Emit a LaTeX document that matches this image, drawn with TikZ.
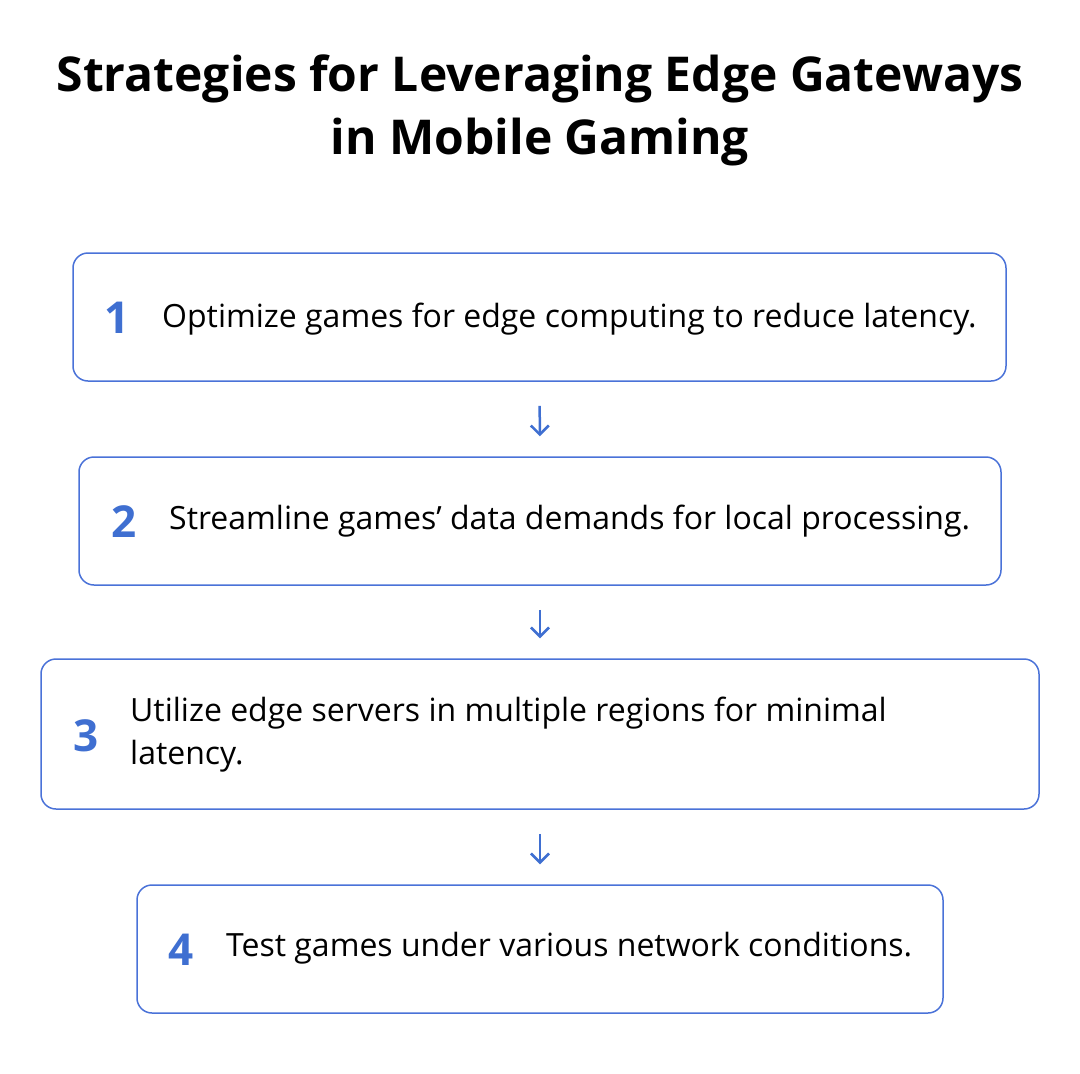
\documentclass[tikz,border=0pt]{standalone}
\usepackage{fontspec}
\setmainfont{Open Sans}
\usetikzlibrary{positioning, arrows.meta}
\definecolor{edgeblue}{HTML}{4A72D8}
\definecolor{numblue}{HTML}{3F6FD1}

\begin{document}
\begin{tikzpicture}[
            x=1pt, y=-1pt,
            box/.style={rectangle, draw=edgeblue, line width=1.5pt, rounded corners=15pt, fill=white, inner sep=0pt},
            num/.style={font=\fontsize{44}{48}\selectfont\bfseries, text=numblue},
            txt/.style={font=\fontsize{32}{43}\selectfont, anchor=west, align=left, inner sep=0pt},
            flow/.style={-{Straight Barb[length=9pt, width=18pt, line width=2.5pt]}, draw=numblue, line width=2.5pt, shorten <=24pt, shorten >=20pt}
        ]
        \useasboundingbox (0,0) rectangle (1080,1074);

        % Title
        \node[font=\fontsize{48}{63}\selectfont\bfseries, align=center] (title) at (540,110)
            {Strategies for Leveraging Edge Gateways\\in Mobile Gaming};

        % Steps
        \node[box, minimum width=933pt, minimum height=128pt] (s1) at (539.5,317) {};
        \node[num] (n1) at (117,318) {1};
        \node[txt] (t1) at (162,319) {Optimize games for edge computing to reduce latency.};

        \node[box, minimum width=922pt, minimum height=128pt] (s2) at (540,521) {};
        \node[num] (n2) at (124,522) {2};
        \node[txt] (t2) at (169,521) {Streamline games’ data demands for local processing.};

        \node[box, minimum width=998pt, minimum height=150pt] (s3) at (540,734) {};
        \node[num] (n3) at (86,736) {3};
        \node[txt] (t3) at (130,735) {Utilize edge servers in multiple regions for minimal\\latency.};

        \node[box, minimum width=806pt, minimum height=128pt] (s4) at (540,949) {};
        \node[num] (n4) at (181,950) {4};
        \node[txt] (t4) at (226,948) {Test games under various network conditions.};

        % Arrows
        \draw[flow] (s1) -- (s2);
        \draw[flow] (s2) -- (s3);
        \draw[flow] (s3) -- (s4);

    \end{tikzpicture}
\end{document}
